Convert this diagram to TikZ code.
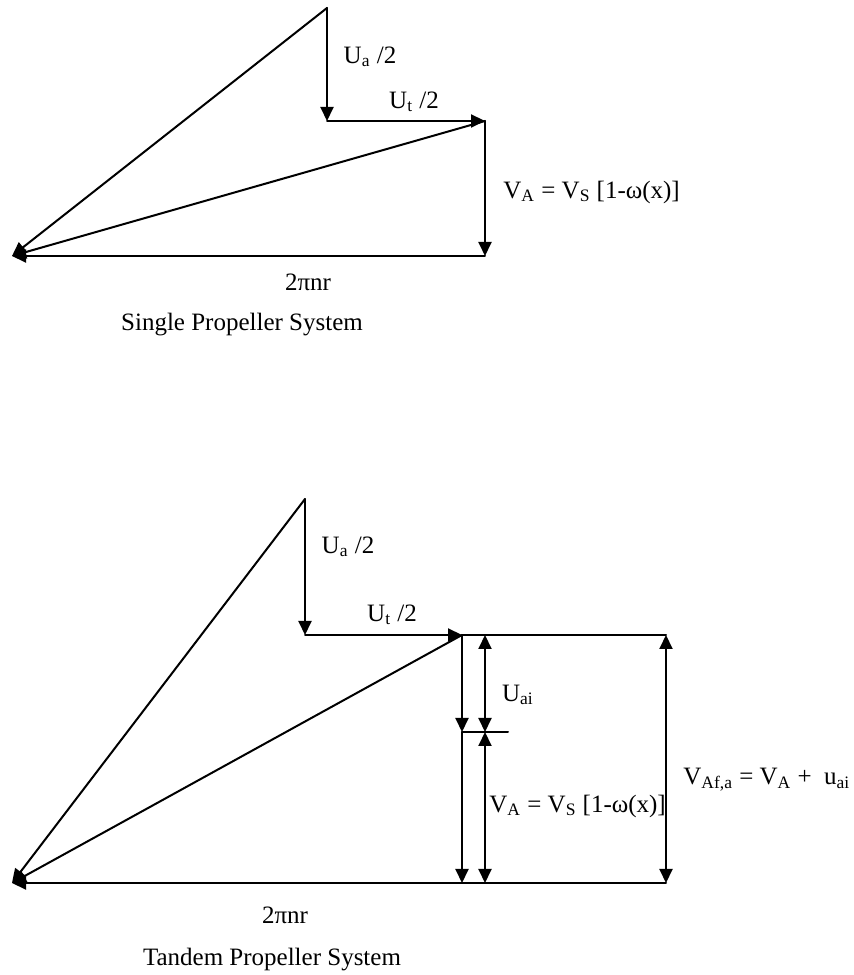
\documentclass[tikz,border=0pt]{standalone}
\usepackage{fontspec}
\setmainfont{Liberation Serif}
\usepackage{tkz-euclide}
\usetikzlibrary{arrows.meta}
\tikzset{
  vec/.style={line width=1pt,-{Triangle[length=7pt,width=6.5pt]}},
  dvec/.style={line width=1pt,{Triangle[length=7pt,width=6.5pt]}-{Triangle[length=7pt,width=6.5pt]}},
  seg/.style={line width=1pt},
  lbl/.style={font=\fontsize{12.5}{15}\selectfont,inner sep=0pt}
}

\begin{document}
\begin{tikzpicture}[x=0.5pt,y=0.5pt]
    \useasboundingbox (0,0) rectangle (853,975);
    % single propeller
    \tkzDefPoints{327/967/T1,327/854/C1,485/854/P1,485/719/B1,12/719/L1}
    \tkzDrawSegments[vec](T1,C1 C1,P1 P1,B1 B1,L1 T1,L1 P1,L1)
    \node[lbl] (ua1) at (370,918) {U\textsubscript{a} /2};
    \node[lbl] (ut1) at (414,873) {U\textsubscript{t} /2};
    \node[lbl,anchor=west] (va1) at (503,783) {V\textsubscript{A} = V\textsubscript{S} [1-ω(x)]};
    \node[lbl] (rot1) at (308,693) {2πnr};
    \node[lbl] (cap1) at (242,650) {Single Propeller System};
    % tandem propeller
    \tkzDefPoints{305/476/T2,305/340/C2,462/340/P2,462/243/M2,462/92/B2,12/92/L2}
    \tkzDefPoints{666/340/Q2,666/92/R2,485/340/U1,485/243/U2,485/92/U3,508/243/K2}
    \tkzDrawSegments[vec](T2,C2 C2,P2 T2,L2 P2,L2 P2,M2 M2,B2 R2,L2)
    \tkzDrawSegments[seg](P2,Q2 M2,K2)
    \tkzDrawSegments[dvec](U1,U2 U2,U3 Q2,R2)
    \node[lbl] (ua2) at (348,428) {U\textsubscript{a} /2};
    \node[lbl] (ut2) at (392,360) {U\textsubscript{t} /2};
    \node[lbl] (uai) at (518,280) {U\textsubscript{ai}};
    \node[lbl,anchor=west] (va2) at (489,169) {V\textsubscript{A} = V\textsubscript{S} [1-ω(x)]};
    \node[lbl,anchor=west] (vaf) at (683,195) {V\textsubscript{Af,a} = V\textsubscript{A} +\hspace{0.5em}u\textsubscript{ai}};
    \node[lbl] (rot2) at (285,60) {2πnr};
    \node[lbl] (cap2) at (272,15) {Tandem Propeller System};
\end{tikzpicture}
\end{document}
